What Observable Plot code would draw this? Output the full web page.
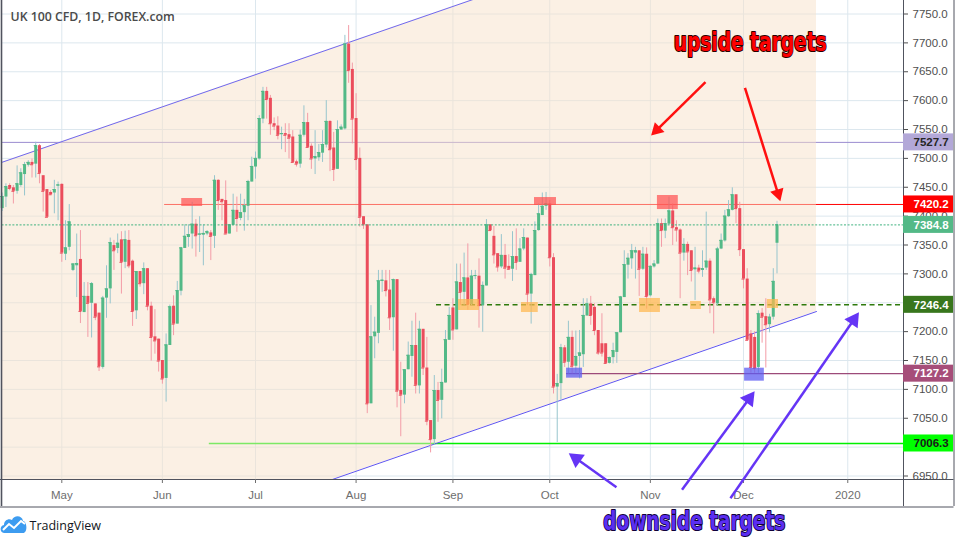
<!DOCTYPE html>
<html><head><meta charset="utf-8">
<script src="https://cdn.jsdelivr.net/npm/d3@7"></script>
<script src="https://cdn.jsdelivr.net/npm/@observablehq/plot@0.6"></script>
<style>html,body{margin:0;padding:0;background:#fff;}#chart{width:956px;height:538px;overflow:hidden;}</style>
</head><body><div id="chart"></div>
<script>
// ---------------- data ----------------
// bar index 0 = 1 May 2019 (daily bars incl. Sunday sessions)
const firstIndex = -16;
const opens = [
7413,7433,7453,7449,7443,7453,7472,7488,7493,7490,
7522,7470,7446,7441,7440,7452,7455,7334,7346,7306,
7314,7325,7233,7261,7249,7248,7232,7138,7258,7274,
7349,7344,7359,7320,7358,7322,7236,7304,7283,7309,
7244,7191,7187,7150,7119,7176,7244,7213,7270,7344,
7363,7369,7386,7367,7367,7369,7371,7365,7462,7429,
7427,7369,7384,7410,7396,7406,7417,7459,7485,7499,
7568,7616,7604,7560,7556,7541,7543,7541,7537,7494,
7490,7540,7562,7521,7499,7501,7509,7523,7564,7518,
7481,7549,7551,7698,7654,7569,7500,7399,7385,7075,
7191,7197,7287,7288,7272,7224,7290,7098,7090,7134,
7157,7176,7106,7204,7137,7046,7013,7098,7081,7111,
7185,7241,7203,7285,7268,7293,7247,7296,7296,7245,
7279,7385,7365,7335,7312,7332,7313,7308,7330,7320,
7343,7362,7265,7297,7375,7401,7417,7421,7328,7104,
7110,7172,7147,7190,7140,7157,7160,7227,7248,7242,
7202,7179,7179,7145,7155,7164,7198,7259,7315,7326,
7336,7340,7308,7334,7262,7312,7317,7387,7374,7386,
7409,7380,7376,7336,7351,7340,7307,7310,7306,7310,
7322,7257,7248,7343,7357,7399,7410,7437,7413,7342,
7291,7196,7190,7138,7232,7226,7212,7225,7353];
const highs = [
7440,7456,7456,7453,7487,7482,7493,7496,7499,7528,
7524,7470,7446,7444,7462,7459,7456,7392,7420,7318,
7369,7375,7285,7285,7285,7248,7232,7261,7314,7362,
7358,7369,7373,7374,7375,7324,7304,7304,7319,7309,
7251,7238,7187,7150,7196,7246,7262,7287,7346,7385,
7385,7424,7394,7399,7385,7375,7375,7470,7463,7429,
7461,7385,7438,7433,7438,7429,7462,7502,7511,7574,
7623,7623,7609,7570,7572,7554,7560,7560,7548,7497,
7549,7591,7578,7525,7548,7524,7548,7600,7565,7545,
7565,7558,7713,7730,7665,7612,7518,7399,7385,7245,
7225,7306,7306,7306,7306,7291,7290,7147,7134,7182,
7218,7232,7218,7204,7190,7046,7124,7112,7135,7202,
7242,7257,7317,7317,7336,7352,7306,7306,7326,7286,
7394,7385,7382,7335,7368,7351,7333,7373,7378,7361,
7378,7362,7301,7390,7421,7440,7441,7427,7335,7126,
7178,7176,7218,7201,7201,7202,7257,7257,7261,7248,
7202,7231,7179,7156,7180,7198,7261,7340,7335,7351,
7346,7340,7346,7345,7314,7323,7395,7395,7395,7433,
7421,7392,7378,7361,7355,7340,7346,7315,7340,7407,
7326,7260,7346,7369,7410,7427,7449,7437,7424,7342,
7309,7202,7200,7236,7240,7257,7230,7309,7391];
const lows = [
7408,7415,7444,7421,7438,7450,7435,7485,7466,7466,
7456,7407,7398,7436,7404,7392,7320,7323,7340,7304,
7259,7214,7233,7190,7189,7219,7131,7135,7223,7248,
7306,7335,7265,7309,7309,7209,7221,7277,7264,7236,
7149,7161,7130,7109,7078,7176,7193,7213,7262,7344,
7346,7343,7329,7337,7314,7366,7323,7344,7410,7392,
7369,7369,7384,7372,7392,7374,7392,7459,7464,7497,
7560,7568,7540,7548,7532,7515,7510,7499,7493,7485,
7483,7537,7519,7481,7472,7495,7493,7518,7477,7460,
7481,7549,7549,7630,7525,7479,7381,7377,7058,7075,
7153,7179,7268,7260,7202,7166,7068,7018,7075,7134,
7121,7092,7092,7124,7037,6990,7003,7043,7049,7111,
7185,7185,7203,7245,7245,7237,7245,7290,7206,7199,
7279,7375,7317,7303,7309,7291,7306,7287,7306,7320,
7340,7245,7213,7297,7374,7401,7410,7312,7092,7008,
7081,7138,7127,7127,7127,7118,7138,7227,7211,7193,
7159,7156,7144,7144,7144,7145,7198,7259,7291,7308,
7291,7261,7306,7239,7260,7310,7316,7346,7361,7384,
7349,7355,7257,7322,7297,7286,7254,7300,7294,7306,
7231,7196,7245,7342,7355,7398,7409,7387,7330,7274,
7185,7128,7128,7128,7180,7137,7198,7220,7300];
const closes = [
7434,7451,7448,7443,7456,7475,7489,7493,7489,7522,
7474,7443,7398,7437,7446,7454,7336,7345,7390,7317,
7318,7235,7261,7249,7283,7225,7139,7258,7274,7354,
7340,7353,7320,7359,7314,7235,7304,7283,7309,7244,
7190,7184,7149,7118,7177,7243,7213,7271,7345,7365,
7368,7386,7366,7369,7370,7373,7365,7462,7427,7425,
7369,7385,7410,7396,7406,7418,7460,7486,7500,7569,
7616,7602,7560,7556,7540,7543,7540,7535,7493,7490,
7540,7562,7519,7499,7503,7510,7524,7564,7515,7481,
7550,7554,7698,7652,7568,7498,7398,7385,7075,7191,
7199,7288,7289,7271,7224,7290,7097,7090,7134,7159,
7176,7107,7204,7137,7045,7013,7098,7081,7112,7186,
7228,7203,7286,7268,7293,7247,7296,7297,7245,7280,
7385,7375,7333,7312,7332,7310,7308,7330,7320,7343,
7363,7265,7299,7375,7404,7417,7421,7328,7104,7110,
7172,7147,7190,7140,7157,7163,7228,7248,7228,7202,
7163,7163,7145,7155,7167,7198,7260,7316,7327,7340,
7340,7308,7334,7261,7313,7317,7387,7375,7387,7409,
7380,7376,7336,7351,7338,7306,7310,7305,7309,7322,
7255,7250,7343,7358,7400,7411,7437,7413,7342,7291,
7185,7138,7136,7231,7225,7212,7225,7287,7385];

const monthTicks = [0, 27, 52, 79, 105, 131, 158, 183, 211];
const monthLabels = ["May", "Jun", "Jul", "Aug", "Sep", "Oct", "Nov", "Dec", "2020"];
const priceTicks = [6950, 7000, 7050, 7100, 7150, 7200, 7250, 7300, 7350, 7400, 7450, 7500, 7550, 7600, 7650, 7700, 7750];
// tick labels hidden behind the price-level labels in the reference
const hiddenTickLabels = [7000, 7250];

// horizontal levels (price, bar index where the line starts)
const levelPrices = [7527.7, 7420.2, 7384.8, 7246.4, 7127.2, 7006.3];
const levelStarts = [-17, 27.6, -17, 100.6, 135.5, 39.6];

// trend channel (bar index, upper price, lower price)
const channelX = [-17, 202.6];
const channelUpper = [7491.1, 7980.7];
const channelLower = [6743.4, 7234.8];

// highlight boxes
const boxKinds = ["red", "red", "red", "orange", "orange", "orange", "orange", "orange", "blue", "blue"];
const boxStart = [32.2, 126.9, 159.9, 106.5, 123.4, 155.1, 168.8, 189.4, 135.5, 183.3];
const boxEnd   = [37.8, 132.8, 165.5, 112.1, 127.9, 160.7, 171.7, 192.4, 139.8, 188.6];
const boxLow   = [7416.7, 7418.4, 7411.4, 7236.6, 7233.1, 7233.1, 7238.3, 7240.1, 7119.4, 7114.2];
const boxHigh  = [7430.5, 7432.2, 7435.7, 7255.6, 7250.4, 7257.4, 7252.2, 7255.6, 7136.7, 7136.7];

// annotation arrows (from bar index/price to bar index/price)
const arrowGroup = ["up", "up", "down", "down", "down"];
const arrowFromX = [172.8, 183.4, 148.9, 166.5, 179.5];
const arrowFromY = [7631.9, 7622.2, 6930.6, 6926.1, 6911.5];
const arrowToX   = [158.2, 192.9, 136.1, 186.0, 214.0];
const arrowToY   = [7539.6, 7425.8, 6989.5, 7096.8, 7233.6];

const annotationTexts = ["upside targets", "downside targets"];
const annotationX = [184.8, 169.8];
const annotationY = [7700, 6871];

// ---------------- layout ----------------
const W = 956, H = 538, mL = 1, mR = 53, mT = 0, mB = 59;
const xDomain = [-16.19, 225.96], yDomain = [6943.94, 7773.38];
const xs = d3.scaleLinear(xDomain, [mL, W - mR]);
const ys = d3.scaleLinear(yDomain, [H - mB, mT]);
const pxX = v => xs.invert(v), pxY = v => ys.invert(v);

const UP = "#53b987", DN = "#eb4d5c", UPW = "#97c5cd", DNW = "#f39ca7";
const levelStyles = [
  {stroke: "#9a8bd0", width: 1, dash: null, under: true, box: "#b3a8d8", text: "#262626"},
  {stroke: "#ff0000", width: 1, dash: null, under: true, box: "#ff0000", text: "#ffffff"},
  {stroke: "#3fb27f", width: 1, dash: "2,1.6", under: false, box: "#53b987", text: "#ffffff"},
  {stroke: "#2e7a0c", width: 1.5, dash: "5,3.5", under: false, box: "#38761d", text: "#ffffff"},
  {stroke: "#9c4a79", width: 1.3, dash: null, under: false, box: "#a64d79", text: "#ffffff"},
  {stroke: "#00f000", width: 1.6, dash: null, under: true, box: "#00ff00", text: "#1a1a1a"}
];
const boxStyles = {red: {fill: "#ff5252", op: 0.72}, orange: {fill: "#ffb74d", op: 0.72}, blue: {fill: "#5d5cf2", op: 0.75}};

const candles = opens.map((o, k) => ({i: firstIndex + k, o, h: highs[k], l: lows[k], c: closes[k]}));
const upC = candles.filter(d => d.c >= d.o), dnC = candles.filter(d => d.c < d.o);
const levels = levelPrices.map((p, k) => ({p, s: levelStarts[k], k}));
const channel = channelX.map((x, k) => ({x, hi: channelUpper[k], lo: channelLower[k]}));
const boxes = boxKinds.map((kind, k) => ({kind, x1: boxStart[k], x2: boxEnd[k], y1: boxLow[k], y2: boxHigh[k]}));
const labelMap = new Map(monthTicks.map((t, k) => [t, monthLabels[k]]));
const fmt = d3.format(".1f");

function arrowParts(k, head) {
  const X1 = xs(arrowFromX[k]), Y1 = ys(arrowFromY[k]), X2 = xs(arrowToX[k]), Y2 = ys(arrowToY[k]);
  const L = Math.hypot(X2 - X1, Y2 - Y1), ux = (X2 - X1) / L, uy = (Y2 - Y1) / L;
  const r = head / 2.333;
  return {
    g: arrowGroup[k],
    x1: arrowFromX[k], y1: arrowFromY[k],
    x2: pxX(X2 - ux * (head - 1)), y2: pxY(Y2 - uy * (head - 1)),
    cx: pxX(X2 - ux * 1.555 * r), cy: pxY(Y2 - uy * 1.555 * r),
    rot: Math.atan2(ux, -uy) * 180 / Math.PI
  };
}
const upHead = 12, dnHead = 14;
const arrows = arrowGroup.map((g, k) => arrowParts(k, g === "up" ? upHead : dnHead));
const upArrows = arrows.filter(a => a.g === "up"), dnArrows = arrows.filter(a => a.g === "down");

function levelLine(k) {
  const st = levelStyles[k];
  return Plot.ruleY([levels[k]], {y: "p", x1: "s", x2: () => xDomain[1], stroke: st.stroke, strokeWidth: st.width, strokeDasharray: st.dash, clip: true});
}

const chrome = "#50535e";
const marks = [
  Plot.gridY(priceTicks, {stroke: "#dce7ee", strokeOpacity: 1}),
  Plot.gridX(monthTicks, {stroke: "#dce7ee", strokeOpacity: 1}),
  ...levels.filter(d => levelStyles[d.k].under).map(d => levelLine(d.k)),
  Plot.areaY(channel, {x: "x", y1: "lo", y2: "hi", fill: "#f7e1c9", fillOpacity: 0.5, clip: true}),
  Plot.line(channel, {x: "x", y: "hi", stroke: "#6f68f0", strokeWidth: 1, clip: true}),
  Plot.line(channel, {x: "x", y: "lo", stroke: "#5f55f0", strokeWidth: 1, clip: true}),
  ...levels.filter(d => !levelStyles[d.k].under && d.k !== 2).map(d => levelLine(d.k)),
  // candles
  Plot.ruleX(upC, {x: "i", y1: "l", y2: "h", stroke: UPW, strokeWidth: 1}),
  Plot.ruleX(dnC, {x: "i", y1: "l", y2: "h", stroke: DNW, strokeWidth: 1}),
  Plot.ruleX(upC, {x: "i", y1: "o", y2: "c", stroke: UP, strokeWidth: 3}),
  Plot.ruleX(dnC, {x: "i", y1: "o", y2: "c", stroke: DN, strokeWidth: 3}),
  Plot.ruleY(upC, {y: "c", x1: d => d.i - 0.4, x2: d => d.i + 0.4, stroke: UP}),
  Plot.ruleY(dnC, {y: "c", x1: d => d.i - 0.4, x2: d => d.i + 0.4, stroke: DN}),
  levelLine(2),
  ...Object.keys(boxStyles).map(kind => Plot.rect(boxes.filter(b => b.kind === kind), {x1: "x1", x2: "x2", y1: "y1", y2: "y2", fill: boxStyles[kind].fill, fillOpacity: boxStyles[kind].op})),
  // frame and axes
  Plot.ruleX([xDomain[0]], {y1: () => pxY(0), y2: () => pxY(506), stroke: chrome, strokeWidth: 1.6}),
  Plot.ruleX([xDomain[1], pxX(953.5)], {y1: () => pxY(0), y2: () => pxY(506), stroke: chrome}),
  Plot.ruleY([yDomain[0], pxY(506.5)], {x1: () => pxX(0), x2: () => pxX(953.5), stroke: chrome}),
  Plot.axisY({ticks: priceTicks, anchor: "right", tickSize: 4, tickPadding: 5, tickFormat: d => hiddenTickLabels.includes(d) ? "" : fmt(d), color: "#4f4f4f", fontSize: 11.5}),
  Plot.axisX({ticks: monthTicks, anchor: "bottom", tickSize: 4, tickPadding: 7, tickFormat: d => labelMap.get(d), color: "#6e6e6e", fontSize: 11.5}),
  // price labels on the axis
  ...levels.map(d => Plot.rect([d], {x1: () => xDomain[1], x2: () => pxX(953), y1: e => pxY(ys(e.p) + 8.5), y2: e => pxY(ys(e.p) - 8.5), fill: levelStyles[d.k].box})),
  ...levels.map(d => Plot.text([d], {x: () => xDomain[1], y: "p", text: e => fmt(e.p), dx: 10, textAnchor: "start", fill: levelStyles[d.k].text, fontSize: 11.5, fontWeight: "bold"})),
  // arrows
  Plot.link(upArrows, {x1: "x1", y1: "y1", x2: "x2", y2: "y2", stroke: "#ff1010", strokeWidth: 2.5}),
  Plot.dot(upArrows, {x: "cx", y: "cy", r: upHead / 2.333, rotate: "rot", symbol: "triangle", fill: "#ff1010", stroke: "none"}),
  Plot.link(dnArrows, {x1: "x1", y1: "y1", x2: "x2", y2: "y2", stroke: "#6535f5", strokeWidth: 2.5}),
  Plot.dot(dnArrows, {x: "cx", y: "cy", r: dnHead / 2.333, rotate: "rot", symbol: "triangle", fill: "#6535f5", stroke: "none"}),
  // annotation texts
  Plot.text([0], {x: () => annotationX[0], y: () => annotationY[0], text: () => annotationTexts[0], fill: "#ff0000", stroke: "#2a0000", strokeWidth: 2, paintOrder: "stroke", fontSize: 26, fontWeight: "bold", fontFamily: "'Liberation Sans Narrow', 'DejaVu Sans Condensed', sans-serif"}),
  Plot.text([1], {x: () => annotationX[1], y: () => annotationY[1], text: () => annotationTexts[1], fill: "#5b2ef2", stroke: "#10003a", strokeWidth: 2, paintOrder: "stroke", fontSize: 26, fontWeight: "bold", fontFamily: "'Liberation Sans Narrow', 'DejaVu Sans Condensed', sans-serif"}),
  // title + footer
  Plot.text(["UK 100 CFD, 1D, FOREX.com"], {frameAnchor: "top-left", dx: 9, dy: 17, lineAnchor: "middle", textAnchor: "start", fill: "#4a4a4a", fontSize: 12.3, fontWeight: 600, fontFamily: "'Open Sans', sans-serif"}),
  Plot.text(["TradingView"], {frameAnchor: "bottom-left", dx: 28, dy: 46, lineAnchor: "middle", textAnchor: "start", fill: "#131722", fontSize: 12.5, fontFamily: "'Open Sans', sans-serif"})
];

const chart = Plot.plot({
  width: W, height: H, marginLeft: mL, marginRight: mR, marginTop: mT, marginBottom: mB,
  x: {type: "linear", domain: xDomain},
  y: {type: "linear", domain: yDomain},
  style: {background: "#ffffff", fontFamily: "'Liberation Sans', Arial, sans-serif", fontSize: "11.5px", overflow: "visible"},
  marks
});
document.getElementById("chart").appendChild(chart);

// fit annotation text widths to the reference
d3.select(chart).selectAll("text").each(function () {
  const t = this.textContent;
  if (t === "upside targets") d3.select(this).attr("textLength", 153).attr("lengthAdjust", "spacingAndGlyphs");
  if (t === "downside targets") d3.select(this).attr("textLength", 182).attr("lengthAdjust", "spacingAndGlyphs");
});

// TradingView logo (decorative)
const logo = d3.select(chart).append("g").attr("transform", "translate(0,515)");
logo.append("path").attr("d", "M4,18 C0,18 -1,11 4,10 C4,5 9,3 12,5 C14,0 22,0 23,6 C27,6 28,18 23,18 Z").attr("fill", "#3d9cf0");
logo.append("path").attr("d", "M3,15 L9,9 L14,13 L21,6 L25,9").attr("fill", "none").attr("stroke", "#fff").attr("stroke-width", 2);
</script>
</body></html>
